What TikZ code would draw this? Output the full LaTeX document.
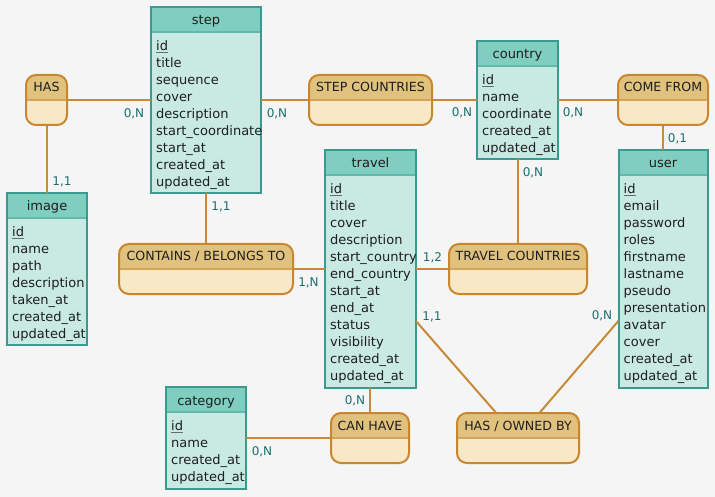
\documentclass[tikz,border=0pt]{standalone}
\usepackage{fontspec}
\setmainfont{DejaVu Sans}
\usetikzlibrary{calc}
\definecolor{bgc}{HTML}{F5F5F5}
\definecolor{enthead}{HTML}{80CEC0}
\definecolor{entbody}{HTML}{C8EAE3}
\definecolor{entborder}{HTML}{3A9A8F}
\definecolor{entdiv}{HTML}{62B8AA}
\definecolor{relhead}{HTML}{E0C27E}
\definecolor{relbody}{HTML}{F8E8C5}
\definecolor{relborder}{HTML}{C8862E}
\definecolor{reldiv}{HTML}{D4A45A}
\definecolor{conncol}{HTML}{C68A3A}
\definecolor{cardc}{HTML}{1A6F6F}
\definecolor{textc}{HTML}{1E1E1E}
\definecolor{idc}{HTML}{6A6A6A}
\newcommand{\attrfont}{\fontsize{13}{15}\selectfont}
\newcommand{\relfont}{\fontsize{12.6}{15}\selectfont}
\newcommand{\cardfont}{\fontsize{12}{14}\selectfont}
\tikzset{
  entity/.style={rectangle, draw=entborder, line width=2pt, fill=entbody,
    inner sep=0pt, outer sep=0pt,
    path picture={
      \fill[enthead] (path picture bounding box.north west) rectangle ([yshift=-25pt]path picture bounding box.north east);
      \draw[entdiv, line width=1.6pt] ([yshift=-25pt]path picture bounding box.north west) -- ([yshift=-25pt]path picture bounding box.north east);
    }},
  enttitle/.style={font=\attrfont, text=textc, inner sep=0pt, anchor=base},
  attr/.style={font=\attrfont, text=textc, inner sep=0pt, anchor=base west},
  idline/.style={draw=idc, line width=1.6pt},
  relation/.style={rectangle, rounded corners=10pt, minimum height=50pt,
    inner sep=0pt, outer sep=0pt, fill=relbody, draw=relborder, line width=2pt,
    path picture={
      \fill[relhead, sharp corners] (path picture bounding box.north west) rectangle (path picture bounding box.east);
      \draw[reldiv, sharp corners, line width=1.6pt] (path picture bounding box.west) -- (path picture bounding box.east);
    }},
  reltitle/.style={font=\relfont, text=textc, inner sep=0pt, anchor=base},
  card/.style={font=\cardfont, text=cardc, inner sep=0pt, anchor=base},
  conn/.style={draw=conncol, line width=2pt}
}
\newcommand{\entbox}[7]{%
  \node[entity, minimum width=#4pt, minimum height=#5pt, anchor=north west] (#1) at (#2,#3) {};
  \node[enttitle] (#1-t) at ([yshift=-18pt]#1.north) {#6};
  \foreach \a [count=\i] in {#7} {
    \node[attr] (#1-\i) at ([shift={(5pt,{-43.5pt-(\i-1)*17pt})}]#1.north west) {\a};
  }
  \draw[idline] ([yshift=-2pt]#1-1.base west) -- ([yshift=-2pt]#1-1.base east);
}
\newcommand{\relbox}[5]{%
  \node[relation, minimum width=#4pt] (#1) at (#2,#3) {};
  \node[reltitle] (#1-t) at ([yshift=-17pt]#1.north) {#5};
}
\newcommand{\card}[4]{\node[card] (#1) at (#2,#3) {#4};}
\begin{document}
\begin{tikzpicture}[x=1pt, y=-1pt]
\fill[bgc] (0,0) rectangle (715,497);
\useasboundingbox (0,0) rectangle (715,497);

% entities
\entbox{step}{151}{7}{110}{186}{step}{id,title,sequence,cover,description,start\_coordinate,start\_at,created\_at,updated\_at}
\entbox{image}{7}{193}{80}{152}{image}{id,name,path,description,taken\_at,created\_at,updated\_at}
\entbox{country}{477}{41}{81}{118}{country}{id,name,coordinate,created\_at,updated\_at}
\entbox{user}{618.5}{150}{89}{238}{user}{id,email,password,roles,firstname,lastname,pseudo,presentation,avatar,cover,created\_at,updated\_at}
\entbox{travel}{325}{150}{91}{238}{travel}{id,title,cover,description,start\_country,end\_country,start\_at,end\_at,status,visibility,created\_at,updated\_at}
\entbox{category}{166}{387}{80}{102}{category}{id,name,created\_at,updated\_at}

% relationships
\relbox{has}{46.5}{100}{41}{HAS}
\relbox{stepc}{370.5}{100}{123}{STEP COUNTRIES}
\relbox{comefrom}{663}{100}{90}{COME FROM}
\relbox{contains}{206}{269}{174}{CONTAINS / BELONGS TO}
\relbox{travelc}{518}{269}{138}{TRAVEL COUNTRIES}
\relbox{canhave}{370}{438}{78}{CAN HAVE}
\relbox{hob}{518}{438}{122}{HAS / OWNED BY}

% connectors
\draw[conn] (has.east) -- (step.west);
\draw[conn] (has.south) -- (has.south |- image.north);
\draw[conn] (step.east) -- (stepc.west);
\draw[conn] (stepc.east) -- (country.west);
\draw[conn] (country.east) -- (comefrom.west);
\draw[conn] (comefrom.south) -- (comefrom.south |- user.north);
\draw[conn] (step.south) -- (step.south |- contains.north);
\draw[conn] (country.south) -- (country.south |- travelc.north);
\draw[conn] (contains.east) -- (travel.west);
\draw[conn] (travel.east) -- (travelc.west);
\draw[conn] (canhave.north |- travel.south) -- (canhave.north);
\draw[conn] (category.east) -- (canhave.west);
\draw[conn] (travel) -- (hob);
\draw[conn] (user) -- (hob);

% cardinalities
\card{c1}{134}{117.3}{0,N}
\card{c2}{62}{185.8}{1,1}
\card{c3}{277}{117.3}{0,N}
\card{c4}{462}{116.8}{0,N}
\card{c5}{573}{116.8}{0,N}
\card{c6}{677.5}{142.3}{0,1}
\card{c7}{533}{176.3}{0,N}
\card{c8}{221}{210.8}{1,1}
\card{c9}{308.5}{286.3}{1,N}
\card{c10}{432.5}{261.3}{1,2}
\card{c11}{432}{320.3}{1,1}
\card{c12}{602}{319.3}{0,N}
\card{c13}{355}{404.8}{0,N}
\card{c14}{262}{455.3}{0,N}
\end{tikzpicture}
\end{document}
